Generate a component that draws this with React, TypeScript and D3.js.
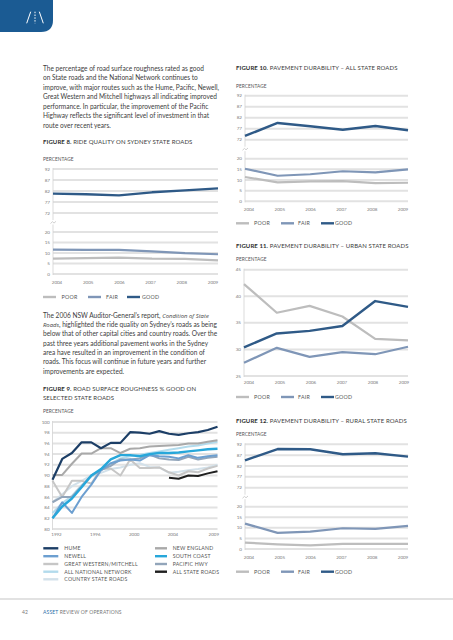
import React from 'react';
import * as d3 from 'd3';

// ---------- DATA ----------
const years = [2004, 2005, 2006, 2007, 2008, 2009];
const upperTicks = [72, 77, 82, 87, 92];
const lowerTicks = [0, 5, 10, 15, 20];

const fig8Good = [80.8, 80.5, 80.0, 81.4, 82.3, 83.2];
const fig8Fair = [11.6, 11.5, 11.5, 10.8, 9.9, 9.4];
const fig8Poor = [7.3, 7.6, 7.8, 7.3, 7.2, 6.5];

const fig10Good = [73.7, 79.6, 78.1, 76.5, 78.2, 76.3];
const fig10Fair = [15.3, 12.0, 12.7, 14.1, 13.6, 15.0];
const fig10Poor = [11.4, 8.9, 9.4, 9.5, 8.5, 8.7];

const fig11Ticks = [25, 30, 35, 40, 45];
const fig11Good = [30.4, 33.0, 33.5, 34.4, 39.1, 38.0];
const fig11Fair = [27.5, 30.3, 28.6, 29.5, 29.1, 30.5];
const fig11Poor = [42.3, 36.9, 38.2, 36.2, 32.0, 31.7];

const fig12Good = [84.6, 89.8, 89.7, 87.4, 87.9, 86.3];
const fig12Fair = [12.0, 7.6, 8.2, 9.8, 9.5, 10.9];
const fig12Poor = [3.0, 2.2, 1.7, 2.4, 2.4, 2.4];

const fig9Years = [1992, 1993, 1994, 1995, 1996, 1997, 1998, 1999, 2000, 2001, 2002, 2003, 2004, 2005, 2006, 2007, 2008, 2009];
const fig9Ticks = [80, 82, 84, 86, 88, 90, 92, 94, 96, 98, 100];
const fig9XLabels = [1992, 1996, 2000, 2004, 2009];
const hume = [89.2, 93.1, 94.2, 96.2, 96.2, 95.1, 96.1, 96.1, 98.1, 98.0, 97.8, 98.3, 97.8, 97.6, 97.9, 98.1, 98.5, 99.1];
const newEngland = [90.1, 90.1, 92.2, 94.1, 94.1, 95.1, 95.1, 94.2, 95.0, 95.1, 95.4, 95.5, 95.6, 95.7, 96.0, 96.0, 96.3, 96.6];
const southCoast = [82.0, 84.2, 85.7, 87.8, 90.0, 91.2, 93.0, 93.8, 93.8, 93.6, 94.0, 94.2, 94.2, 94.3, 94.5, 94.7, 94.9, 95.0];
const newell = [82.0, 85.0, 83.0, 86.0, 88.3, 91.0, 92.3, 92.8, 93.0, 92.8, 93.8, 93.6, 93.5, 93.2, 93.8, 93.3, 93.6, 93.8];
const pacificHwy = [85.0, 86.0, 86.0, 88.0, 90.0, 91.0, 91.8, 93.0, 93.0, 93.2, 93.9, 93.2, 93.0, 92.9, 93.5, 93.0, 93.3, 93.5];
const greatWestern = [89.0, 86.0, 89.0, 89.0, 88.5, 91.2, 91.3, 90.0, 93.0, 91.4, 91.4, 91.5, 90.6, 90.0, 90.8, 90.6, 91.3, 91.8];
const nationalNetwork = [83.0, 84.8, 86.2, 88.2, 89.8, 91.0, 92.2, 93.2, 93.6, 93.9, 94.2, 94.5, 94.8, 95.1, 95.4, 95.6, 96.0, 96.3];
const countryState = [85.0, 86.5, 88.0, 89.0, 90.0, 90.5, 91.2, 91.5, 92.0, 92.3, 91.6, 91.5, 90.5, 90.7, 91.0, 91.2, 91.5, 92.0];
const allStateYears = [2004, 2005, 2006, 2007, 2008, 2009];
const allStateRoads = [89.6, 89.4, 90.0, 89.9, 90.4, 90.8];

const para1 = [
  'The percentage of road surface roughness rated as good',
  'on State roads and the National Network continues to',
  'improve, with major routes such as the Hume, Pacific, Newell,',
  'Great Western and Mitchell highways all indicating improved',
  'performance. In particular, the improvement of the Pacific',
  'Highway reflects the significant level of investment in that',
  'route over recent years.',
];
const para2 = [
  'below that of other capital cities and country roads. Over the',
  'past three years additional pavement works in the Sydney',
  'area have resulted in an improvement in the condition of',
  'roads. This focus will continue in future years and further',
  'improvements are expected.',
];

// ---------- STYLE ----------
const FONT = "Lato, 'Noto Sans', sans-serif";
const ITALIC_FONT = "'Open Sans', 'Liberation Sans', sans-serif";
const TEXT = '#404040';
const GRID = '#e2e2e2';
const AXIS = '#d2d2d2';
const TICK = '#7a7a7a';
const C_GOOD = '#2f5a87';
const C_FAIR = '#7f96b7';
const C_POOR = '#bdbdbd';

const BODY_FS = 6.55;

function Title({ x, y, bold, rest }: any) {
  return (
    <text x={x} y={y} fontFamily={FONT} fontSize={6.0} fill={TEXT} letterSpacing={0.1}>
      <tspan fontWeight={700} fill="#2e2e2e">{bold}</tspan>
      <tspan>{rest}</tspan>
    </text>
  );
}

function SmallLabel({ x, y, t }: any) {
  return (
    <text x={x} y={y} fontFamily={FONT} fontSize={4.8} fill="#555" letterSpacing={0.05}>{t}</text>
  );
}

function Legend3({ y, lines, texts }: any) {
  const items = [
    { c: C_POOR, t: 'POOR' },
    { c: C_FAIR, t: 'FAIR' },
    { c: C_GOOD, t: 'GOOD' },
  ];
  return (
    <g>
      {items.map((it, i) => (
        <g key={i}>
          <line x1={lines[i]} x2={lines[i] + 13} y1={y} y2={y} stroke={it.c} strokeWidth={2.4} />
          <text x={texts[i]} y={y + 1.9} fontFamily={FONT} fontSize={5.3} fill="#555" letterSpacing={0.25}>{it.t}</text>
        </g>
      ))}
    </g>
  );
}

function BreakChart({ left, right, uTop, uBot, lTop, lBot, good, fair, poor, labelY }: any) {
  const x = d3.scalePoint<number>().domain(years).range([left, right]);
  const xl = d3.scalePoint<number>().domain(years).range([left + 4, right - 5]);
  const yU = d3.scaleLinear().domain([72, 92]).range([uBot, uTop]);
  const yL = d3.scaleLinear().domain([0, 20]).range([lBot, lTop]);
  const lineU = d3.line<number>().x((_, i) => x(years[i]) as number).y((d) => yU(d));
  const lineL = d3.line<number>().x((_, i) => x(years[i]) as number).y((d) => yL(d));
  const brk = (uBot + lTop) / 2;
  return (
    <g>
      {upperTicks.map((t) => (
        <g key={'u' + t}>
          <line x1={left} x2={right} y1={yU(t)} y2={yU(t)} stroke={GRID} strokeWidth={2} />
          <text x={left - 3} y={yU(t) + 1.6} textAnchor="end" fontFamily={FONT} fontSize={4.6} fill={TICK}>{t}</text>
        </g>
      ))}
      {lowerTicks.map((t) => (
        <g key={'l' + t}>
          <line x1={left} x2={right} y1={yL(t)} y2={yL(t)} stroke={GRID} strokeWidth={2} />
          <text x={left - 3} y={yL(t) + 1.6} textAnchor="end" fontFamily={FONT} fontSize={4.6} fill={TICK}>{t}</text>
        </g>
      ))}
      <line x1={left} x2={left} y1={yU(92) - 1} y2={brk - 2.5} stroke={AXIS} strokeWidth={0.8} />
      <line x1={left} x2={left} y1={brk + 2} y2={yL(0) + 1} stroke={AXIS} strokeWidth={0.8} />
      <path d={`M ${left - 2.5} ${brk + 1} L ${left - 0.5} ${brk - 0.8} L ${left + 1} ${brk + 0.6} L ${left + 3} ${brk - 1.2}`} fill="none" stroke="#bbb" strokeWidth={0.7} />
      {years.map((yr) => (
        <text key={yr} x={xl(yr)} y={labelY} textAnchor="middle" fontFamily={FONT} fontSize={4.5} fill={TICK}>{yr}</text>
      ))}
      <path d={lineL(poor) as string} fill="none" stroke={C_POOR} strokeWidth={2.2} strokeLinejoin="round" />
      <path d={lineL(fair) as string} fill="none" stroke={C_FAIR} strokeWidth={2.2} strokeLinejoin="round" />
      <path d={lineU(good) as string} fill="none" stroke={C_GOOD} strokeWidth={2.4} strokeLinejoin="round" />
    </g>
  );
}

function Fig11() {
  const left = 244, right = 408;
  const x = d3.scalePoint<number>().domain(years).range([left, right]);
  const xl = d3.scalePoint<number>().domain(years).range([left + 5, right - 4]);
  const y = d3.scaleLinear().domain([25, 45]).range([376, 269.7]);
  const line = d3.line<number>().x((_, i) => x(years[i]) as number).y((d) => y(d));
  return (
    <g>
      {fig11Ticks.map((t) => (
        <g key={t}>
          <line x1={left} x2={right} y1={y(t)} y2={y(t)} stroke={GRID} strokeWidth={2} />
          <text x={left - 3} y={y(t) + 1.6} textAnchor="end" fontFamily={FONT} fontSize={4.6} fill={TICK}>{t}</text>
        </g>
      ))}
      <line x1={left} x2={left} y1={y(45) - 1} y2={y(25) + 1} stroke={AXIS} strokeWidth={0.8} />
      {years.map((yr) => (
        <text key={yr} x={xl(yr)} y={383.5} textAnchor="middle" fontFamily={FONT} fontSize={4.5} fill={TICK}>{yr}</text>
      ))}
      <path d={line(fig11Poor) as string} fill="none" stroke={C_POOR} strokeWidth={2.2} strokeLinejoin="round" />
      <path d={line(fig11Fair) as string} fill="none" stroke={C_FAIR} strokeWidth={2.2} strokeLinejoin="round" />
      <path d={line(fig11Good) as string} fill="none" stroke={C_GOOD} strokeWidth={2.4} strokeLinejoin="round" />
    </g>
  );
}

const fig9Series = [
  { name: 'COUNTRY STATE ROADS', data: countryState, c: '#d3e1ea', w: 2 },
  { name: 'ALL NATIONAL NETWORK', data: nationalNetwork, c: '#b3dbec', w: 2 },
  { name: 'GREAT WESTERN/MITCHELL', data: greatWestern, c: '#c6c6c6', w: 2 },
  { name: 'NEW ENGLAND', data: newEngland, c: '#a9a9a9', w: 2 },
  { name: 'PACIFIC HWY', data: pacificHwy, c: '#92a5ba', w: 2 },
  { name: 'NEWELL', data: newell, c: '#6c9fd0', w: 2 },
  { name: 'SOUTH COAST', data: southCoast, c: '#27a7da', w: 2.4 },
  { name: 'HUME', data: hume, c: '#1c3e66', w: 2.2 },
];

function Fig9() {
  const left = 52.5, right = 217.5;
  const x = d3.scaleLinear().domain([1992, 2009]).range([left, right]);
  const y = d3.scaleLinear().domain([80, 100]).range([529, 422]);
  const line = d3.line<number>().x((_, i) => x(fig9Years[i])).y((d) => y(d));
  const lineAll = d3.line<number>().x((_, i) => x(allStateYears[i])).y((d) => y(d));
  const leftLegend = [
    { t: 'HUME', c: '#1c3e66' },
    { t: 'NEWELL', c: '#6c9fd0' },
    { t: 'GREAT WESTERN/MITCHELL', c: '#c6c6c6' },
    { t: 'ALL NATIONAL NETWORK', c: '#b3dbec' },
    { t: 'COUNTRY STATE ROADS', c: '#d3e1ea' },
  ];
  const rightLegend = [
    { t: 'NEW ENGLAND', c: '#a9a9a9' },
    { t: 'SOUTH COAST', c: '#27a7da' },
    { t: 'PACIFIC HWY', c: '#92a5ba' },
    { t: 'ALL STATE ROADS', c: '#1f1f1f' },
  ];
  const rows = [548.3, 556.2, 564, 571.7, 579.3];
  return (
    <g>
      {fig9Ticks.map((t) => (
        <g key={t}>
          <line x1={left} x2={right} y1={y(t)} y2={y(t)} stroke={GRID} strokeWidth={2} />
          <text x={left - 3} y={y(t) + 1.6} textAnchor="end" fontFamily={FONT} fontSize={4.5} fill={TICK}>{t}</text>
        </g>
      ))}
      <line x1={left} x2={left} y1={y(100) - 1} y2={y(80) + 1} stroke={AXIS} strokeWidth={0.8} />
      {fig9XLabels.map((yr, i) => (
        <text key={yr} x={i === fig9XLabels.length - 1 ? x(yr) + 1.5 : x(yr) + 4} y={536} textAnchor={i === fig9XLabels.length - 1 ? 'end' : 'middle'} fontFamily={FONT} fontSize={4.5} fill={TICK}>{yr}</text>
      ))}
      {fig9Series.map((s) => (
        <path key={s.name} d={line(s.data) as string} fill="none" stroke={s.c} strokeWidth={s.w} strokeLinejoin="round" />
      ))}
      <path d={lineAll(allStateRoads) as string} fill="none" stroke="#1f1f1f" strokeWidth={2} strokeLinejoin="round" />
      {leftLegend.map((it, i) => (
        <g key={it.t}>
          <line x1={43.3} x2={58.3} y1={rows[i]} y2={rows[i]} stroke={it.c} strokeWidth={2.4} />
          <text x={64.3} y={rows[i] + 1.8} fontFamily={FONT} fontSize={5.2} fill="#555" letterSpacing={0.2}>{it.t}</text>
        </g>
      ))}
      {rightLegend.map((it, i) => (
        <g key={it.t}>
          <line x1={155} x2={167} y1={rows[i]} y2={rows[i]} stroke={it.c} strokeWidth={2.4} />
          <text x={172.7} y={rows[i] + 1.8} fontFamily={FONT} fontSize={5.2} fill="#555" letterSpacing={0.2}>{it.t}</text>
        </g>
      ))}
    </g>
  );
}

export default function App() {
  return (
    <svg width={453} height={640} viewBox="0 0 453 640" style={{ position: 'absolute', left: 0, top: 0, background: '#fff' }}>
      <rect x={0} y={0} width={453} height={640} fill="#fff" />
      {/* logo tab */}
      <path d="M0 0 H53 V20 Q53 32 41 32 H0 Z" fill="#1b5b93" />
      <line x1={26.7} y1={23.3} x2={30.7} y2={11.7} stroke="#fff" strokeWidth={1} />
      <line x1={35} y1={11.7} x2={35} y2={23.3} stroke="#fff" strokeWidth={1} strokeDasharray="1.5 1.3" />
      <line x1={39.3} y1={11.7} x2={43.3} y2={23.3} stroke="#fff" strokeWidth={1} />

      {/* paragraph 1 */}
      {para1.map((l, i) => (
        <text key={i} x={43} y={70.5 + i * 9.5} fontFamily={FONT} fontSize={BODY_FS} fill={TEXT}>{l}</text>
      ))}
      <Title x={43} y={143.5} bold="FIGURE 8." rest=" RIDE QUALITY ON SYDNEY STATE ROADS" />
      <SmallLabel x={43} y={161} t="PERCENTAGE" />
      <BreakChart left={53} right={218} uTop={169} uBot={213} lTop={232} lBot={274} good={fig8Good} fair={fig8Fair} poor={fig8Poor} labelY={284} />
      <Legend3 y={297} lines={[43, 88, 127]} texts={[61.5, 106, 142]} />

      {/* paragraph 2 */}
      <text x={43} y={317.5} fontFamily={FONT} fontSize={BODY_FS} fill={TEXT}>
        The 2006 NSW Auditor-General’s report,{' '}
        <tspan fontFamily={ITALIC_FONT} fontStyle="italic" fontSize={5.9}>Condition of State</tspan>
      </text>
      <text x={43} y={326.9} fontFamily={FONT} fontSize={BODY_FS} fill={TEXT}>
        <tspan fontFamily={ITALIC_FONT} fontStyle="italic" fontSize={5.9}>Roads</tspan>, highlighted the ride quality on Sydney’s roads as being
      </text>
      {para2.map((l, i) => (
        <text key={i} x={43} y={336.3 + i * 9.35} fontFamily={FONT} fontSize={BODY_FS} fill={TEXT}>{l}</text>
      ))}
      <Title x={43} y={390.5} bold="FIGURE 9." rest=" ROAD SURFACE ROUGHNESS % GOOD ON" />
      <Title x={43} y={399.7} bold="" rest="SELECTED STATE ROADS" />
      <SmallLabel x={43} y={413} t="PERCENTAGE" />
      <Fig9 />

      {/* right column */}
      <Title x={236} y={70} bold="FIGURE 10." rest=" PAVEMENT DURABILITY – ALL STATE ROADS" />
      <SmallLabel x={236} y={88} t="PERCENTAGE" />
      <BreakChart left={245} right={408} uTop={95.7} uBot={139.7} lTop={158.7} lBot={201.3} good={fig10Good} fair={fig10Fair} poor={fig10Poor} labelY={210.8} />
      <Legend3 y={223.3} lines={[236, 281, 321]} texts={[254, 298, 335]} />

      <Title x={236} y={247.5} bold="FIGURE 11." rest=" PAVEMENT DURABILITY – URBAN STATE ROADS" />
      <SmallLabel x={236} y={261.3} t="PERCENTAGE" />
      <Fig11 />
      <Legend3 y={397} lines={[236, 281, 321]} texts={[254, 298, 335]} />

      <Title x={236} y={423} bold="FIGURE 12." rest=" PAVEMENT DURABILITY – RURAL STATE ROADS" />
      <SmallLabel x={236} y={436.3} t="PERCENTAGE" />
      <BreakChart left={245} right={408} uTop={444.3} uBot={487.7} lTop={506.7} lBot={549} good={fig12Good} fair={fig12Fair} poor={fig12Poor} labelY={558.8} />
      <Legend3 y={571.7} lines={[236, 281, 321]} texts={[254, 298, 335]} />

      {/* footer */}
      <line x1={0} x2={453} y1={599} y2={599} stroke="#d8d8d8" strokeWidth={1.5} />
      <text x={22} y={614} fontFamily={FONT} fontSize={5} fill="#777">42</text>
      <text x={43} y={614} fontFamily={FONT} fontSize={5} fill="#777" letterSpacing={0.15}>
        <tspan fill="#2b6ea8">ASSET</tspan>  REVIEW OF OPERATIONS
      </text>
    </svg>
  );
}
